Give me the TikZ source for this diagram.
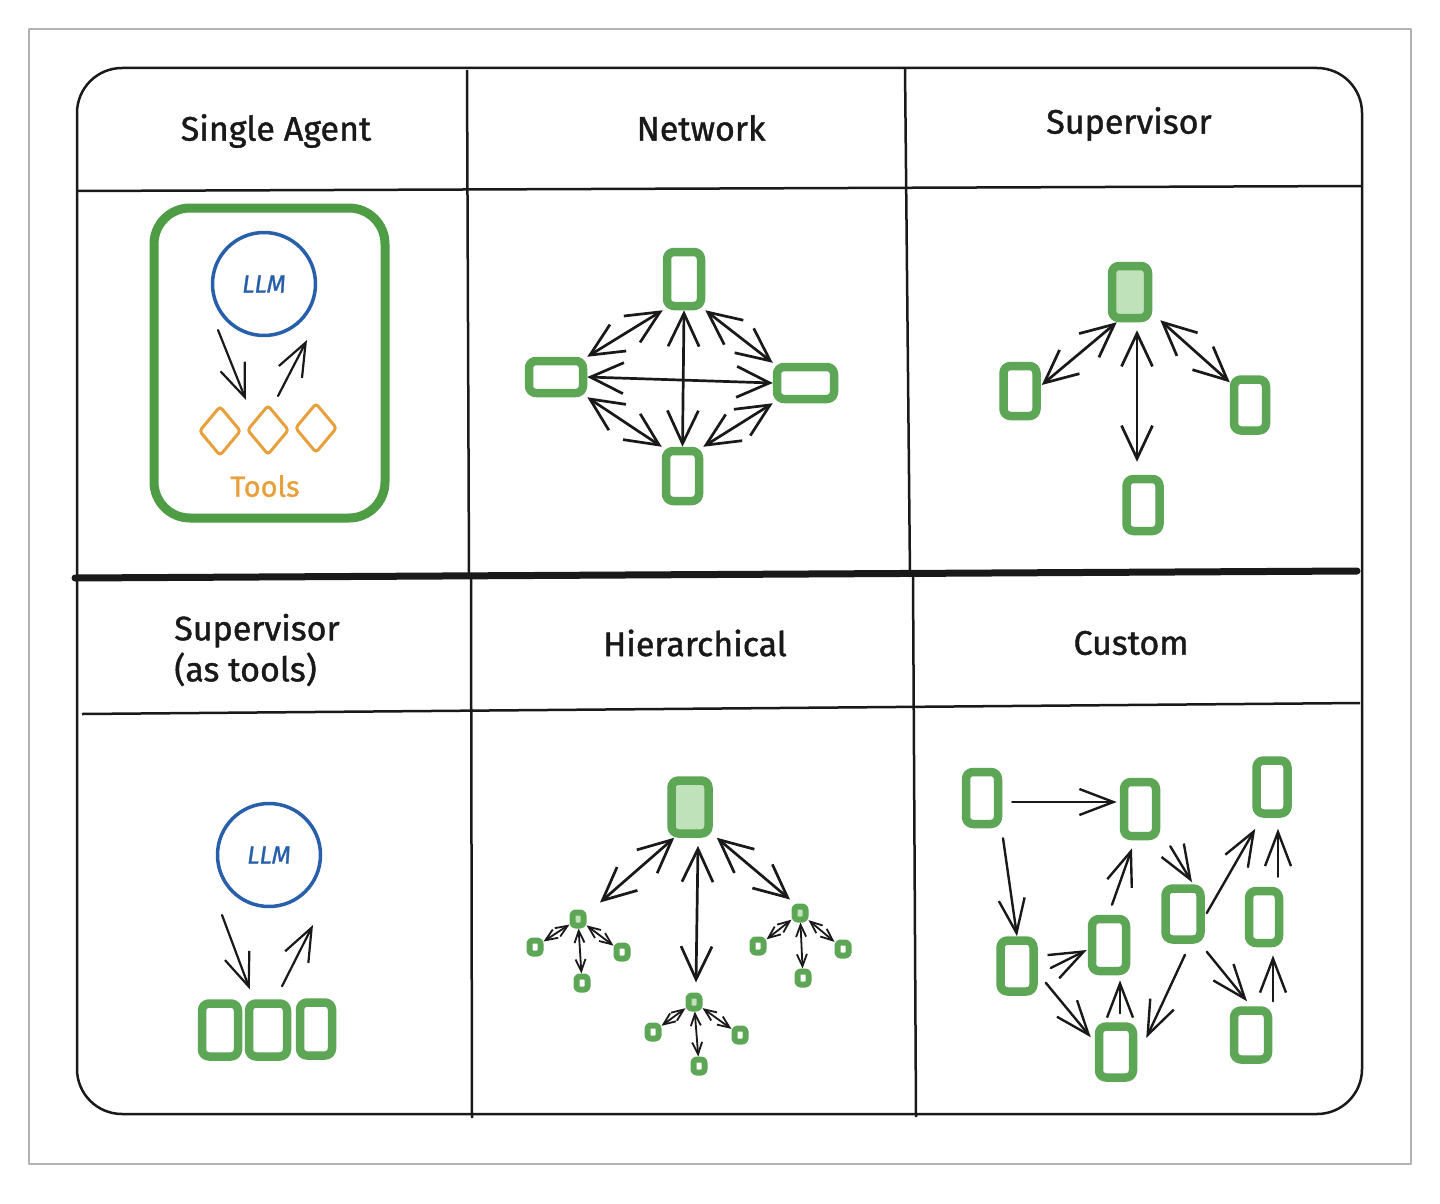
\documentclass[tikz,border=0pt]{standalone}
\usepackage{fontspec}
\setmainfont{Fira Sans}
\usetikzlibrary{arrows.meta,calc,shapes.geometric}
\definecolor{gbox}{RGB}{92,166,86}
\definecolor{gfill}{RGB}{192,226,186}
\definecolor{gframe}{RGB}{78,156,68}
\definecolor{llmblue}{RGB}{40,95,170}
\definecolor{tool}{RGB}{232,160,60}
\definecolor{bordergray}{RGB}{178,178,178}
\definecolor{ink}{RGB}{25,25,25}
\begin{document}
\begin{tikzpicture}[x=1pt,y=-1pt,line join=round,
  tbl/.style={draw=ink, line width=2.5pt},
  hd/.style={font=\fontsize{34}{41}\selectfont\addfontfeature{FakeBold=1.2}, text=ink, inner sep=0pt},
  ag/.style 2 args={draw=gbox, line width=8.5pt, rounded corners=7pt, minimum width=#1pt, minimum height=#2pt, inner sep=0pt},
  sm/.style={draw=gbox, line width=6pt, rounded corners=3pt, minimum width=11pt, minimum height=13pt, inner sep=0pt},
  bi/.style={<->, draw=ink, line width=2.7pt, line cap=round, >={Straight Barb[length=33pt,width=31pt]}},
  one/.style={->, draw=ink, line width=2.4pt, line cap=round, >={Straight Barb[length=34pt,width=26pt]}},
  tiny/.style={<->, draw=ink, line width=1.8pt, >={Straight Barb[length=12pt,width=10pt]}},
  thin/.style={->, draw=ink, line width=2.2pt, line cap=round, >={Straight Barb[length=33pt,width=26pt]}},
  llmc/.style={circle, draw=llmblue, line width=3.5pt, minimum size=103pt, inner sep=0pt, text=llmblue, font=\fontsize{25}{28}\selectfont\itshape\addfontfeature{FakeBold=1}},
  dia/.style={diamond, draw=tool, line width=3pt, rounded corners=3pt, minimum width=42pt, minimum height=50pt, inner sep=0pt}
]
\useasboundingbox[fill=white] (0,0) rectangle (1440,1204);
% outer gray frame
\draw[draw=bordergray, line width=2pt] (29,29) rectangle (1411,1164);
% table
\draw[tbl, rounded corners=45pt] (77,68) rectangle (1362,1114);
\draw[tbl] (467,70) -- (469,577);
\draw[tbl] (471,577) -- (472,1118);
\draw[tbl] (905,68) -- (910,577);
\draw[tbl] (913,577) -- (916,1117);
\draw[tbl] (77,191) -- (1362,186);
\draw[tbl] (82,714) -- (1360,703);
\draw[draw=ink, line width=7pt, line cap=round] (75,578) -- (1357,571);

% headers
\node[hd] (h1) at (276,131) {Single Agent};
\node[hd] (h2) at (701,128) {Network};
\node[hd] (h3) at (1129,124) {Supervisor};
\node[hd, align=left] (h4) at (257,650) {Supervisor\\(as tools)};
\node[hd] (h5) at (695,643) {Hierarchical};
\node[hd] (h6) at (1131,643) {Custom};

% ---- Single agent
\node[draw=gframe, line width=9pt, rounded corners=36pt, minimum width=231pt, minimum height=310pt, inner sep=0pt] (frame) at (269.5,363) {};
\node[llmc] (llm) at (264,284) {LLM};
\node[dia] (t1) at (220,431) {};
\node[dia] (t2) at (268,430) {};
\node[dia] (t3) at (316,428) {};
\node[text=tool, font=\fontsize{29}{31}\selectfont\addfontfeature{FakeBold=1}, inner sep=0pt] (tools) at (265,486) {Tools};
\draw[thin] ($(llm.center)+(-46,46)$) -- ($(t2.center)+(-22,-30)$);
\draw[thin] ($(t2.center)+(10,-34)$) -- ($(llm.center)+(43,56)$);

% ---- Network
\node[ag={34}{54}] (nT) at (684,279) {};
\node[ag={54}{32}] (nL) at (556,377) {};
\node[ag={57}{32}] (nR) at (805.5,383) {};
\node[ag={33}{50}] (nB) at (682.5,476) {};
\draw[bi] (nL.north east) -- (nT.south west);
\draw[bi] (nT.south east) -- (nR.north west);
\draw[bi] (nL.south east) -- (nB.north west);
\draw[bi] (nB.north east) -- (nR.south west);
\draw[bi] (nT.south) -- (nB.north);
\draw[bi] (nL.east) -- (nR.west);

% ---- Supervisor
\node[ag={36}{52}, fill=gfill] (sT) at (1130,292) {};
\node[ag={33}{50}] (sL) at (1020,391) {};
\node[ag={32}{51}] (sR) at (1250,405) {};
\node[ag={33}{52}] (sB) at (1143,505) {};
\draw[bi] ($(sT.south west)+(9,0)$) -- ($(sL.east)+(1,-6)$);
\draw[bi] ($(sT.south)+(7,8)$) -- ($(sB.north)+(-6,-13)$);
\draw[bi] ($(sT.south east)+(8,-2)$) -- ($(sR.north west)+(0,7)$);

% ---- Supervisor (as tools)
\node[llmc] (llm2) at (269,855) {LLM};
\node[ag={36}{53}] (b1) at (220,1030) {};
\node[ag={38}{53}] (b2) at (268,1030) {};
\node[ag={32}{53}] (b3) at (316,1029) {};
\draw[thin] ($(llm2.center)+(-47,60)$) -- ($(b2.north west)+(5,-10)$);
\draw[thin] ($(b2.north)+(14,-13)$) -- ($(llm2.center)+(44,70)$);

% ---- Hierarchical
\node[ag={37}{53}, fill=gfill] (hT) at (690,807) {};
\node[sm, fill=gfill] (hL) at (578,919) {};
\node[sm] (hL1) at (535,947) {};
\node[sm] (hL2) at (622,952) {};
\node[sm] (hL3) at (582,983) {};
\node[sm, fill=gfill] (hR) at (800,913) {};
\node[sm] (hR1) at (758,946) {};
\node[sm] (hR2) at (843,949) {};
\node[sm] (hR3) at (803,978) {};
\node[sm, fill=gfill] (hM) at (694,1002) {};
\node[sm] (hM1) at (653,1032) {};
\node[sm] (hM2) at (740,1035) {};
\node[sm] (hM3) at (699,1066) {};
\draw[bi] ($(hT.south west)+(7,0)$) -- ($(hL.north)+(22,-7)$);
\draw[bi] ($(hT.south)+(8,8)$) -- ($(hM.north)+(2,-10)$);
\draw[bi] ($(hT.south east)+(4,0)$) -- ($(hR.north)+(-10,-4)$);
\foreach \c in {hL,hR,hM}{
  \foreach \k in {1,2,3}{
    \draw[tiny] (\c) -- (\c\k);
  }
}

% ---- Custom
\node[ag={32}{52}] (cA) at (982,798) {};
\node[ag={32}{54}] (cB) at (1140,809) {};
\node[ag={31}{53}] (cC) at (1272,787) {};
\node[ag={33}{51}] (cD) at (1017,966) {};
\node[ag={34}{52}] (cE) at (1109,945) {};
\node[ag={35}{51}] (cF) at (1183,914) {};
\node[ag={30}{52}] (cG) at (1264,917) {};
\node[ag={34}{51}] (cH) at (1116,1052) {};
\node[ag={34}{49}] (cI) at (1251,1035) {};
\draw[one] ($(cA.east)+(10,4)$) -- ($(cB.west)+(-3,-7)$);
\draw[one] ($(cA.south)+(21,10)$) -- (cD.north);
\draw[one] ($(cD.east)+(13,2)$) -- ($(cE.west)+(-1,5)$);
\draw[one] ($(cD.south east)+(8,-13)$) -- ($(cH.north west)+(-4,15)$);
\draw[one] ($(cH.north)+(4,-9)$) -- ($(cE.south)+(11,5)$);
\draw[one] ($(cE.north)+(3,-10)$) -- ($(cB.south)+(-8,8)$);
\draw[one] ($(cB.south east)+(10,6)$) -- ($(cF.north)+(9,-2)$);
\draw[one] ($(cF.east)+(2,-1)$) -- ($(cC.south west)+(3,11)$);
\draw[one] ($(cF.south)+(2,11)$) -- ($(cH.east)+(9,-14)$);
\draw[one] ($(cF.south east)+(2,8)$) -- ($(cI.north)+(-4,-5)$);
\draw[one] ($(cI.north)+(22,-5)$) -- ($(cG.south)+(9,8)$);
\draw[one] ($(cG.north)+(14,-10)$) -- ($(cC.south)+(6,11)$);
\end{tikzpicture}
\end{document}
